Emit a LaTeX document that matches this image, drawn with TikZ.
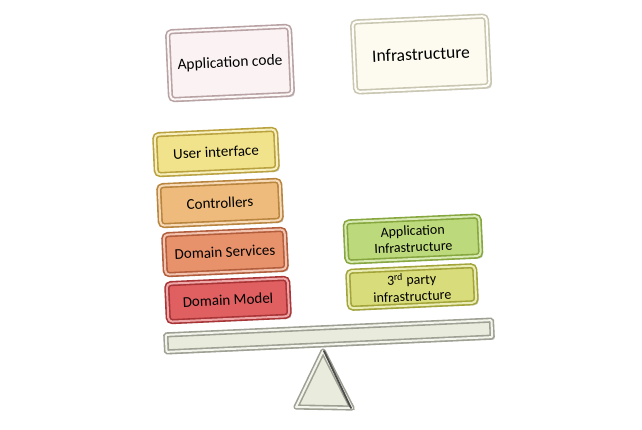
\documentclass[tikz,border=0pt]{standalone}
\usepackage{fontspec}
\setmainfont{Carlito}
\usetikzlibrary{shadows}
\definecolor{acF}{HTML}{FAF2F3}\definecolor{acB}{HTML}{B9A2A4}
\definecolor{inF}{HTML}{FDFBF0}\definecolor{inB}{HTML}{C9C6B2}
\definecolor{uiF}{HTML}{F1E28C}\definecolor{uiB}{HTML}{B9A23E}
\definecolor{ctF}{HTML}{EEBB7C}\definecolor{ctB}{HTML}{B8843E}
\definecolor{dsF}{HTML}{E8926C}\definecolor{dsB}{HTML}{B25E3C}
\definecolor{dmF}{HTML}{E06062}\definecolor{dmB}{HTML}{A83436}
\definecolor{aiF}{HTML}{BCD97C}\definecolor{aiB}{HTML}{86A63E}
\definecolor{tpF}{HTML}{D9DC7A}\definecolor{tpB}{HTML}{A2A43A}
\definecolor{bmF}{HTML}{E9ECDC}\definecolor{bmB}{HTML}{9EA094}
\tikzset{
  bevel/.style n args={2}{draw=#2, fill=#1, line width=1.6pt, double=#1!55!white, double distance=2pt,
    rounded corners=4pt, rotate=2.6, align=center, inner sep=2pt,
    drop shadow={opacity=0.35, shadow xshift=2.5pt, shadow yshift=-2.5pt}},
  layer/.style={minimum width=121pt, minimum height=40pt, font=\fontsize{15}{16}\selectfont},
  rbox/.style={minimum width=134pt, minimum height=40pt, inner sep=1pt, font=\fontsize{14}{16.5}\selectfont},
}
\begin{document}
\begin{tikzpicture}[x=1pt,y=-1pt]
\useasboundingbox (0,0) rectangle (642,429);
\node[bevel={acF}{acB}, font=\fontsize{15.5}{17}\selectfont, minimum width=122pt, minimum height=68pt] (app) at (230,63) {Application code};
\node[bevel={inF}{inB}, font=\fontsize{17.5}{19}\selectfont, minimum width=134pt, minimum height=70pt] (inf) at (421,54) {Infrastructure};
\node[bevel={uiF}{uiB}, layer] (ui) at (216,152) {User interface};
\node[bevel={ctF}{ctB}, layer] (ct) at (220,203) {Controllers};
\node[bevel={dsF}{dsB}, layer] (ds) at (225,252) {Domain Services};
\node[bevel={dmF}{dmB}, layer, minimum height=38pt] (dm) at (228,300) {Domain Model};
\node[bevel={aiF}{aiB}, rbox] (ai) at (413,239) {Application\\Infrastructure};
\node[bevel={tpF}{tpB}, rbox, minimum width=127pt, minimum height=37pt] (tp) at (412,287) {3\textsuperscript{rd} party\\infrastructure};
\node[bevel={bmF}{bmB}, minimum width=326pt, minimum height=17pt, rounded corners=1pt] (beam) at (329,336) {};
\coordinate (apex) at (323,351);
\coordinate (bl) at (296,407);
\coordinate (br) at (352,408);
\fill[black!45, opacity=0.5] ([xshift=3pt]apex) -- ([xshift=3pt,yshift=-2pt]br) -- ([xshift=-1pt,yshift=-2pt]bl) -- cycle;
\draw[draw=bmB, fill=bmF, line width=1.6pt, double=bmF!55!white, double distance=2pt, line join=round] (apex) -- (br) -- (bl) -- cycle;
\draw[black!70, line width=1.8pt, line cap=round] ([xshift=1pt]apex) -- ([xshift=-1pt]br);
\end{tikzpicture}
\end{document}
